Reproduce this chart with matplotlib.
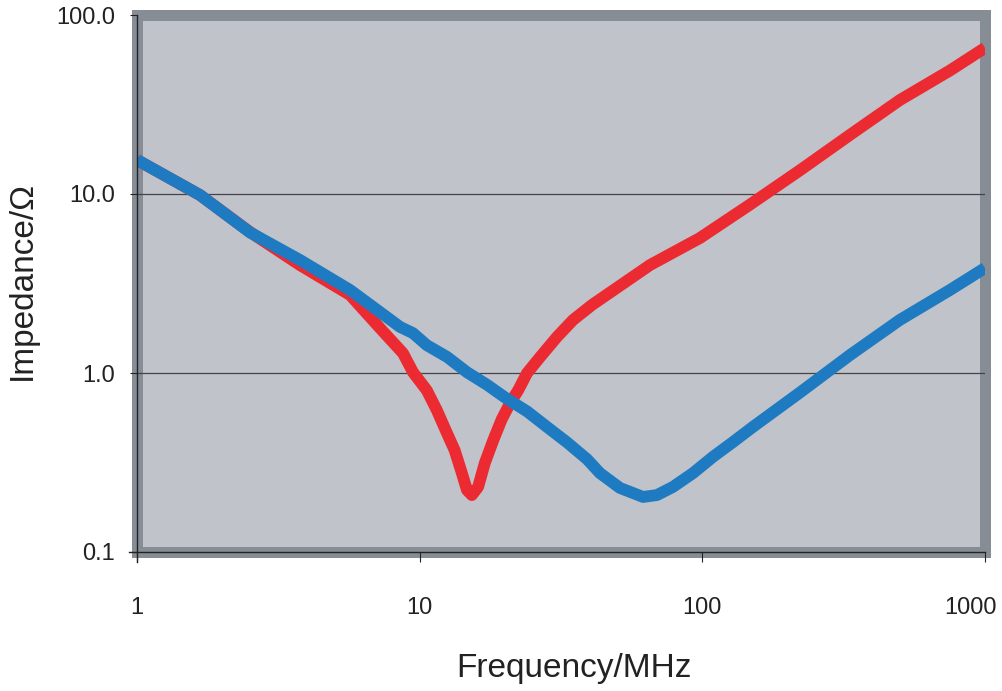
import matplotlib
matplotlib.use("Agg")
import matplotlib.pyplot as plt
from matplotlib.ticker import FixedLocator, NullLocator
from matplotlib.transforms import ScaledTranslation

# ---- data ----
red_freq = [1, 1.67, 2.51, 3.77, 5.67, 7.24, 8.73, 9.47, 10.6, 11.5, 12.5, 13.3, 14.1,
            14.7, 15.3, 16.1, 17.0, 18.2, 19.5, 20.9, 22.3, 24.0, 26.7, 30.6, 34.9,
            40.7, 65.3, 98.1, 147, 222, 333, 500, 752, 1000]
red_imp = [15.5, 9.87, 6.13, 4.01, 2.73, 1.78, 1.29, 1.01, 0.80, 0.62, 0.46, 0.37, 0.276,
           0.222, 0.208, 0.231, 0.314, 0.42, 0.55, 0.68, 0.80, 1.0, 1.23, 1.59, 1.98,
           2.40, 4.01, 5.68, 8.7, 13.6, 21.4, 33.5, 49, 65.5]

blue_freq = [1, 1.67, 2.51, 3.77, 5.67, 8.52, 9.47, 10.6, 12.5, 14.7, 17.3, 20.3, 24.0,
             28.2, 33.2, 39.1, 43.4, 51.1, 61.7, 69.1, 78.7, 92.7, 109, 128, 151, 222,
             333, 500, 752, 1000]
blue_imp = [15.5, 9.87, 6.1, 4.28, 2.91, 1.81, 1.67, 1.43, 1.23, 1.01, 0.86, 0.72, 0.61,
            0.50, 0.41, 0.33, 0.276, 0.228, 0.203, 0.208, 0.231, 0.276, 0.34, 0.41, 0.50,
            0.78, 1.26, 1.98, 2.91, 3.86]

x_ticks = [1, 10, 100, 1000]
x_tick_labels = ["1", "10", "100", "1000"]
y_ticks = [0.1, 1, 10, 100]
y_tick_labels = ["0.1", "1.0", "10.0", "100.0"]

# ---- style ----
W, H, DPI = 1003, 691, 100
plt.rcParams['font.family'] = ['Liberation Sans', 'DejaVu Sans']
inner_bg = "#c0c3ca"
frame_col = "#878d95"
red = "#ec2a31"
blue = "#1f7bc1"
dark = "#222222"

fig = plt.figure(figsize=(W / DPI, H / DPI), dpi=DPI)
left, right, top, bottom = 137, 985, 15, 552
ax = fig.add_axes([left / W, 1 - bottom / H, (right - left) / W, (bottom - top) / H])
ax.set_facecolor(inner_bg)
ax.set_xscale('log')
ax.set_yscale('log')
ax.set_xlim(1, 1000)
ax.set_ylim(0.1, 100)

# frame
for sp in ax.spines.values():
    sp.set_color(frame_col)
    sp.set_linewidth(11 * 72 / DPI)
    sp.set_zorder(1)

# grid
for yv in [1, 10]:
    ax.axhline(yv, color="#444444", lw=0.9, zorder=1.2)

# data
ax.plot(red_freq, red_imp, color=red, lw=8.5, solid_capstyle='butt', zorder=3)
ax.plot(blue_freq, blue_imp, color=blue, lw=8.5, solid_capstyle='butt', zorder=4)

# dark axis lines
ax.axvline(1, ymin=-10 / (bottom - top), ymax=1, color=dark, lw=1.0, clip_on=False, zorder=5)
ax.axhline(0.1, xmin=-8 / (right - left), xmax=1, color=dark, lw=1.0, clip_on=False, zorder=5)

# ticks
ax.xaxis.set_major_locator(FixedLocator(x_ticks))
ax.xaxis.set_minor_locator(NullLocator())
ax.yaxis.set_major_locator(FixedLocator(y_ticks))
ax.yaxis.set_minor_locator(NullLocator())
ax.set_xticklabels(x_tick_labels)
ax.set_yticklabels(y_tick_labels)
ax.tick_params(axis='x', direction='out', length=7.2, width=0.8, color=dark, pad=25,
               labelsize=17, labelcolor="#222222")
ax.tick_params(axis='y', direction='out', length=5.0, width=0.8, color=dark, pad=11,
               labelsize=17, labelcolor="#222222")
for t in ax.xaxis.get_major_ticks() + ax.yaxis.get_major_ticks():
    t.tick1line.set_zorder(6)

# shift last x label left so it fits inside the figure
last = ax.get_xticklabels()[-1]
last.set_transform(last.get_transform() + ScaledTranslation(-14 / DPI, 0, fig.dpi_scale_trans))

fig.text(574 / W, 1 - 668 / H, "Frequency/MHz", ha='center', va='center', fontsize=24, color="#222222")
fig.text(22 / W, 1 - 280 / H, "Impedance/Ω", ha='center', va='center', rotation=90,
         fontsize=24, color="#222222")

fig.savefig("out.png", dpi=DPI)
